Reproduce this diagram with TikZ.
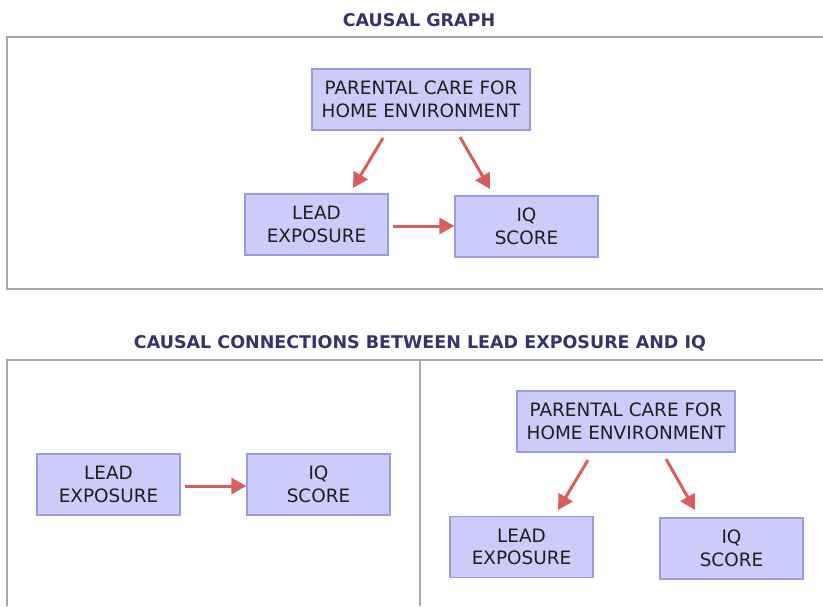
\documentclass[tikz,border=0pt]{standalone}
\usepackage{fontspec}
\setmainfont{DejaVu Sans}
\usetikzlibrary{arrows.meta}
\definecolor{boxfill}{HTML}{CCCCFA}
\definecolor{boxline}{HTML}{9C9CDC}
\definecolor{arrowred}{HTML}{D65F5C}
\definecolor{frame}{HTML}{A8A8A8}
\definecolor{titlenavy}{HTML}{34346A}
\definecolor{boxtext}{HTML}{1E1E1E}
\tikzset{
  varbox/.style={draw=boxline, line width=1.2pt, fill=boxfill, inner sep=0pt,
    align=center, text=boxtext, font=\fontsize{18.4}{22.5}\selectfont},
  link/.style={draw=arrowred, line width=3pt,
    -{Triangle[length=15pt,width=16pt]}},
  paneltitle/.style={text=titlenavy, font=\fontsize{17.5}{20}\bfseries\selectfont},
  panelframe/.style={draw=frame, line width=2pt},
}
\begin{document}
\begin{tikzpicture}[x=1pt,y=-1pt]
\useasboundingbox (0,0) rectangle (823,606);

% upper panel: the full causal graph
\node[paneltitle] (t1) at (419,20) {CAUSAL GRAPH};
\draw[panelframe] (823,37) -- (7,37) -- (7,289) -- (823,289);
\node[varbox, minimum width=218pt, minimum height=61pt] (pc) at (421,99.5)
  {PARENTAL CARE FOR\\HOME ENVIRONMENT};
\node[varbox, minimum width=143pt, minimum height=61pt] (le) at (316.5,224.5)
  {LEAD\\EXPOSURE};
\node[varbox, minimum width=143pt, minimum height=61pt] (iq) at (526.5,226.5)
  {IQ\\SCORE};
\coordinate (pca) at (383,138);
\coordinate (lea) at (353,188);
\coordinate (pcb) at (460,137);
\coordinate (iqb) at (490,189);
\draw[link] (pca) -- (lea);
\draw[link] (pcb) -- (iqb);
\draw[link] (le.east) ++(4,1.5) coordinate (lex) -- (lex -| iq.west) coordinate (iqx);

% lower panels: the two separate connections
\node[paneltitle] (t2) at (420,343) {CAUSAL CONNECTIONS BETWEEN LEAD EXPOSURE AND IQ};
\draw[panelframe] (7,606) -- (7,360) -- (823,360);
\draw[panelframe] (420,360) -- (420,606);

% left: direct effect
\node[varbox, minimum width=143pt, minimum height=61pt] (le2) at (108.5,484.5)
  {LEAD\\EXPOSURE};
\node[varbox, minimum width=143pt, minimum height=61pt] (iq2) at (318.5,484.5)
  {IQ\\SCORE};
\draw[link] (le2.east) ++(4,1.5) coordinate (lex2) -- (lex2 -| iq2.west) coordinate (iqx2);

% right: common cause
\node[varbox, minimum width=218pt, minimum height=61pt] (pc3) at (626,421.5)
  {PARENTAL CARE FOR\\HOME ENVIRONMENT};
\node[varbox, minimum width=143pt, minimum height=61pt] (le3) at (521.5,547)
  {LEAD\\EXPOSURE};
\node[varbox, minimum width=143pt, minimum height=61pt] (iq3) at (731.5,548.5)
  {IQ\\SCORE};
\coordinate (pcc) at (588,460);
\coordinate (lec) at (558,510);
\coordinate (pcd) at (666,459);
\coordinate (iqd) at (695,510);
\draw[link] (pcc) -- (lec);
\draw[link] (pcd) -- (iqd);
\end{tikzpicture}
\end{document}
